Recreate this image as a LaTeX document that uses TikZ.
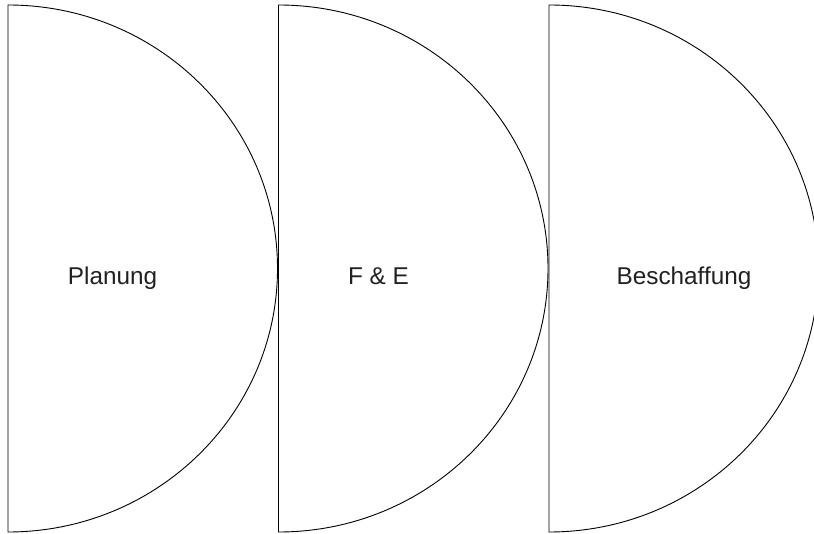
\documentclass[tikz,border=0pt]{standalone}
\usepackage{fontspec}
\setmainfont{Liberation Sans}
\begin{document}
\begin{tikzpicture}[x=1pt,y=1pt,
  half/.style={draw=black,line width=0.9pt,fill=white},
  lbl/.style={font=\fontsize{24.3}{28}\selectfont,text=black!87,anchor=base,inner sep=0pt}]
\useasboundingbox (0,0) rectangle (814,533);
\clip (0,0) rectangle (814,533);
\foreach \x in {8,278.5,549}{
  \draw[half] (\x,528) arc[start angle=90,end angle=-90,x radius=269.5,y radius=263.5] -- cycle;
}
\node[lbl] (p) at (112.5,248) {Planung};
\node[lbl] (f) at (378.5,248) {F \& E};
\node[lbl] (b) at (684,248) {Beschaffung};
\end{tikzpicture}
\end{document}
